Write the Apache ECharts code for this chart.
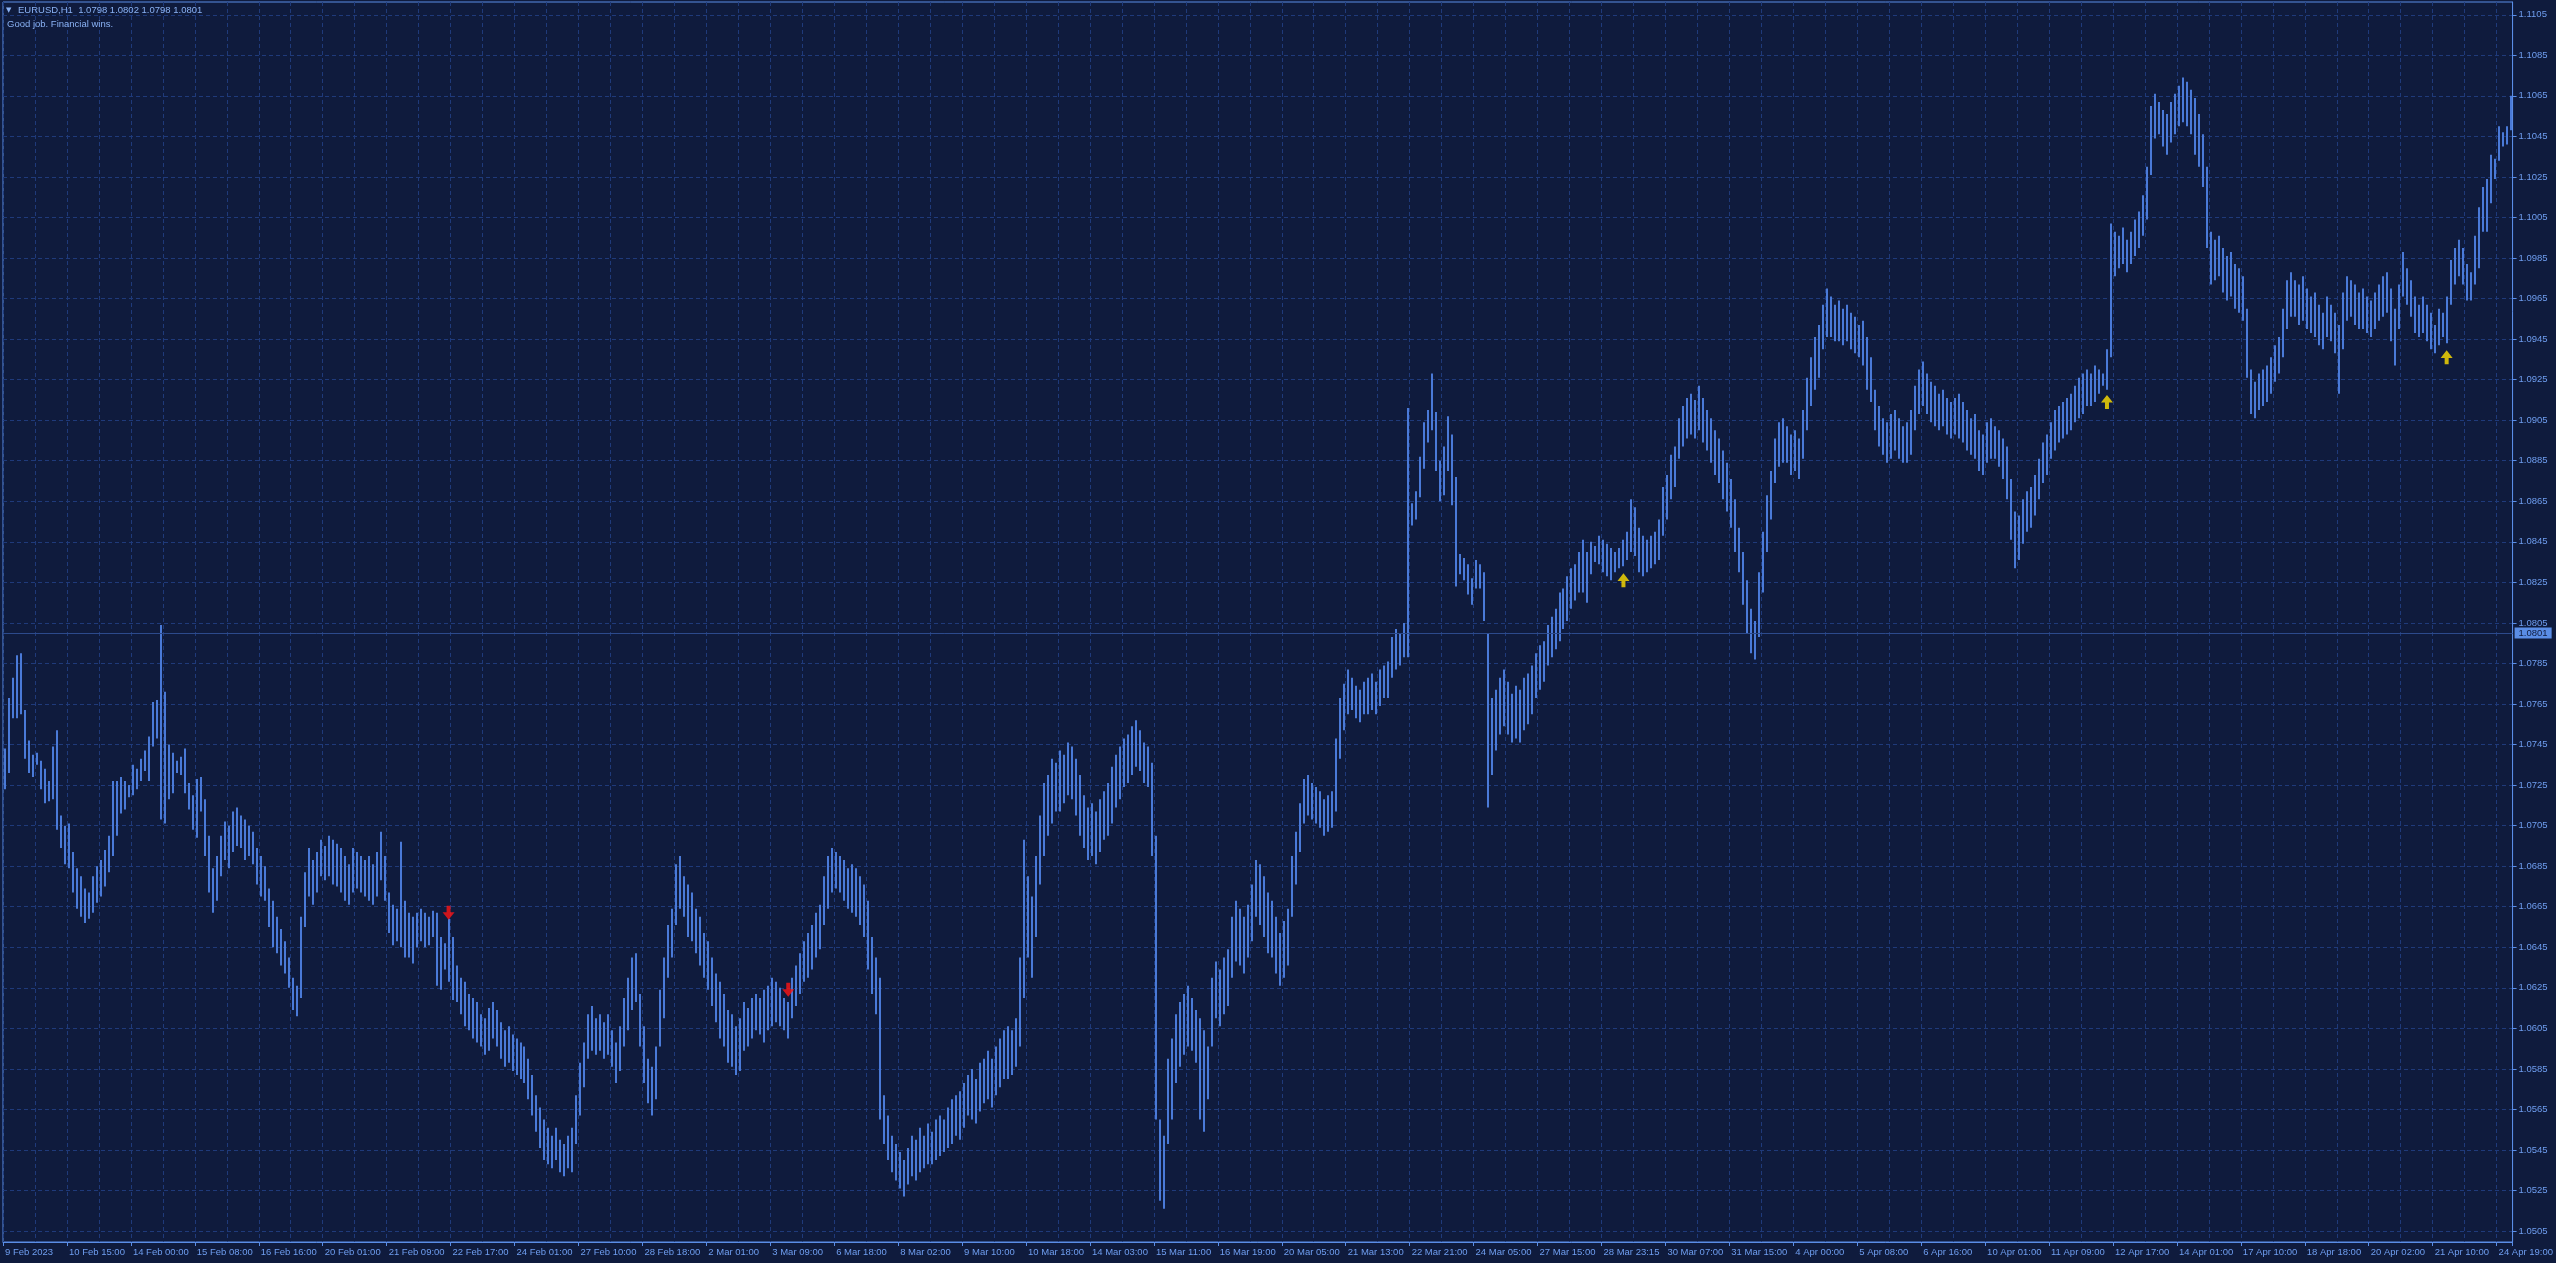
<!DOCTYPE html>
<html><head><meta charset="utf-8">
<script src="https://cdn.jsdelivr.net/npm/echarts@6/dist/echarts.min.js"></script>
<style>html,body{margin:0;padding:0;background:#0f1b3d;overflow:hidden}#c{width:2556px;height:1263px}</style>
</head><body><div id="c"></div>
<script>
// ---- data ----
const symbol = 'EURUSD';
const timeframe = 'H1';
const lastOHLC = [1.0798, 1.0802, 1.0798, 1.0801];
const currentPrice = 1.0801;
const noteText = 'Good job. Financial wins.';

const timeLabels = ['9 Feb 2023','10 Feb 15:00','14 Feb 00:00','15 Feb 08:00','16 Feb 16:00','20 Feb 01:00','21 Feb 09:00','22 Feb 17:00','24 Feb 01:00','27 Feb 10:00','28 Feb 18:00','2 Mar 01:00','3 Mar 09:00','6 Mar 18:00','8 Mar 02:00','9 Mar 10:00','10 Mar 18:00','14 Mar 03:00','15 Mar 11:00','16 Mar 19:00','20 Mar 05:00','21 Mar 13:00','22 Mar 21:00','24 Mar 05:00','27 Mar 15:00','28 Mar 23:15','30 Mar 07:00','31 Mar 15:00','4 Apr 00:00','5 Apr 08:00','6 Apr 16:00','10 Apr 01:00','11 Apr 09:00','12 Apr 17:00','14 Apr 01:00','17 Apr 10:00','18 Apr 18:00','20 Apr 02:00','21 Apr 10:00','24 Apr 19:00'];
const barsPerLabel = 16;

const priceTicks = [1.0505,1.0525,1.0545,1.0565,1.0585,1.0605,1.0625,1.0645,1.0665,1.0685,1.0705,1.0725,1.0745,1.0765,1.0785,1.0805,1.0825,1.0845,1.0865,1.0885,1.0905,1.0925,1.0945,1.0965,1.0985,1.1005,1.1025,1.1045,1.1065,1.1085,1.1105];

// bar highs / lows, in pips above 1.0000 (price = 1 + pips / 10000)
const highPips = [
743,768,778,789,790,762,747,740,741,737,733,727,744,752,710,705,706,692,684,680,
674,672,680,685,688,693,700,727,727,729,727,725,735,733,738,742,749,766,767,804,
771,745,741,737,739,743,726,720,728,729,718,700,684,690,700,707,705,712,714,710,
708,705,702,694,690,685,674,668,660,654,648,640,630,626,660,682,694,688,692,698,
695,700,698,696,694,690,686,694,692,690,688,690,686,692,702,690,672,666,664,697,
668,662,660,662,664,662,660,663,662,650,647,659,650,636,630,628,622,620,618,612,
610,615,618,614,608,604,606,602,600,598,596,590,582,572,566,560,556,552,556,550,
548,552,556,572,588,598,612,616,610,612,608,612,604,598,606,620,630,640,642,622,
606,590,586,596,624,640,656,664,686,690,680,676,672,664,660,652,648,640,632,628,
622,614,612,606,610,618,615,620,622,620,624,626,630,628,625,620,618,630,636,642,
648,652,656,662,666,680,690,694,692,690,688,684,686,684,680,676,668,650,640,630,
572,562,552,548,544,540,546,552,550,556,552,558,554,560,562,560,566,570,572,574,
578,582,585,580,588,590,594,590,596,600,604,606,604,610,640,698,680,670,690,710,
726,730,738,736,742,740,746,744,738,730,720,714,716,712,718,722,726,734,740,744,
748,750,754,757,752,746,744,736,700,560,552,590,600,612,618,622,626,620,614,610,
604,596,630,638,634,640,644,660,668,664,660,666,676,688,686,680,672,668,660,652,
658,664,690,702,716,728,730,726,724,722,718,720,722,748,768,775,782,778,774,772,
776,778,780,776,782,784,786,798,802,800,805,911,864,870,887,904,910,928,909,885,
892,907,898,877,839,837,834,827,836,834,830,800,768,772,778,782,776,770,774,772,
778,780,784,790,794,796,804,808,812,820,822,828,832,834,840,846,840,845,843,848,
846,844,842,840,842,846,850,866,862,852,848,846,848,850,856,872,878,888,892,906,
912,916,918,915,922,916,910,906,900,896,890,884,876,866,852,840,826,812,806,830,
850,868,880,896,904,906,902,898,900,896,910,926,936,946,952,962,970,966,962,964,
960,962,958,956,952,954,946,936,920,912,906,904,908,910,906,902,904,910,922,930,
934,928,924,922,918,920,916,914,916,918,914,910,906,908,900,898,904,906,902,900,
896,892,876,860,858,866,870,872,878,886,894,898,904,910,912,914,916,918,922,926,
928,930,928,932,930,928,940,1002,998,996,1000,994,998,1004,1008,1016,1030,1060,1066,1062,
1058,1056,1062,1066,1070,1074,1072,1068,1064,1056,1046,1030,998,994,996,990,986,988,982,980,
976,960,930,924,928,930,932,936,942,946,960,974,978,974,972,976,970,966,968,962,
958,966,962,958,952,968,976,974,972,968,970,966,964,968,972,976,978,970,960,972,
988,980,974,966,962,966,962,958,952,960,958,966,984,990,994,990,982,978,996,1010,
1020,1024,1036,1034,1050,1047,1050,1065
];
const lowPips = [
723,731,758,758,760,738,731,729,735,723,716,717,718,703,694,686,684,672,664,660,
657,659,662,667,670,675,682,690,700,711,713,719,720,723,727,732,727,744,748,708,
706,718,721,731,730,721,713,703,699,712,690,672,662,668,680,688,684,692,695,694,
688,690,686,676,670,668,655,645,642,636,632,625,614,611,620,655,670,666,672,680,
678,680,676,675,672,668,666,672,674,672,670,668,666,670,678,668,652,646,648,645,
640,640,637,645,648,645,646,650,626,624,634,628,619,618,612,606,604,600,598,596,
592,594,600,596,590,586,588,584,582,580,578,570,562,554,546,540,538,536,540,534,
532,536,534,548,562,576,590,594,592,594,590,592,586,578,584,596,604,614,618,596,
578,568,562,570,596,610,630,640,656,664,660,650,648,642,636,630,624,616,608,600,
596,588,586,582,584,594,596,600,604,602,598,604,606,608,606,604,600,610,616,622,
628,630,634,640,644,656,664,672,674,672,668,664,662,660,656,650,634,622,612,560,
548,540,534,530,526,522,528,532,530,534,536,538,538,540,542,544,546,548,552,550,
556,562,560,558,564,568,570,566,572,576,580,580,582,586,596,620,640,630,650,676,
690,700,706,712,712,716,720,718,710,700,694,688,690,686,692,698,700,706,714,718,
724,726,730,734,732,726,724,690,560,520,516,548,560,578,586,592,596,594,588,560,
554,570,596,610,606,612,616,630,638,636,632,640,648,660,656,650,642,640,632,626,
630,636,660,676,692,706,710,708,706,704,700,702,704,712,738,752,760,762,758,756,
760,760,762,760,764,768,768,778,782,784,788,788,853,856,867,881,894,900,880,865,
868,880,863,823,829,826,819,814,822,822,806,714,730,742,750,754,750,746,748,746,
752,755,760,768,772,776,784,788,792,796,802,806,812,816,820,820,815,829,835,834,
830,828,826,830,832,833,836,840,838,830,828,830,832,834,836,848,856,866,872,886,
892,896,898,896,900,894,890,884,878,874,866,860,852,840,830,814,800,790,787,798,
820,840,856,874,882,884,884,878,880,876,886,900,912,920,926,940,946,946,944,944,
942,944,940,938,936,932,920,914,900,892,888,884,886,890,886,884,884,888,900,908,
912,908,904,902,900,902,898,896,898,896,894,890,888,886,880,878,884,886,886,882,
876,866,846,832,836,844,850,852,858,866,874,878,886,890,894,896,898,900,904,906,
908,912,912,914,918,922,920,936,976,980,982,978,982,986,990,996,1004,1026,1044,1046,
1040,1036,1042,1046,1050,1052,1050,1046,1036,1030,1020,990,972,974,976,968,964,966,960,958,
954,926,908,906,910,912,914,918,924,928,936,950,956,956,952,954,950,948,946,942,
940,946,944,938,918,940,954,956,952,950,950,948,946,950,954,956,958,944,932,950,
966,962,956,948,946,948,944,940,938,942,946,943,962,972,976,972,964,964,972,980,
998,998,1012,1024,1033,1040,1041,1048
];

// signal arrows: [bar index, price]
const sellSignals = [[111, 1.0662], [196, 1.0624]];
const buySignals = [[405, 1.0826], [526, 1.0914], [611, 1.0936]];

// ---- styling ----
const BG = '#0f1b3d';
const GRID = '#1f3a7a';
const AXIS = '#5a8de6';
const LABEL = '#6f9ef0';
const BAR = '#4a7ad8';
const FONT = "'Liberation Sans', Arial, sans-serif";
const Y_MIN = 1.04996, Y_MAX = 1.11113;

const pipToPrice = p => +(1 + p / 10000).toFixed(4);
const barData = highPips.map((h, i) => [i, pipToPrice(h), pipToPrice(lowPips[i])]);
const categories = highPips.map((_, i) => String(i));

const chart = echarts.init(document.getElementById('c'), null, { renderer: 'canvas' });
chart.setOption({
  animation: false,
  backgroundColor: BG,
  grid: { left: 3, right: 41, top: 2, bottom: 21, show: true, borderColor: AXIS, borderWidth: 1, backgroundColor: BG },
  xAxis: {
    type: 'category', data: categories, boundaryGap: true,
    axisLine: { show: true, lineStyle: { color: AXIS, width: 1 } },
    axisTick: { show: true, interval: barsPerLabel - 1, length: 4, lineStyle: { color: AXIS } },
    axisLabel: {
      interval: barsPerLabel - 1, align: 'left', margin: 5, color: LABEL, fontSize: 9.5, fontFamily: FONT,
      formatter: (v, idx) => timeLabels[Math.round(idx / barsPerLabel)] || ''
    },
    splitLine: { show: true, interval: barsPerLabel / 2 - 1, lineStyle: { color: GRID, type: [4, 3], width: 1 } }
  },
  yAxis: {
    type: 'value', position: 'right', min: Y_MIN, max: Y_MAX,
    axisLine: { show: true, lineStyle: { color: AXIS } },
    axisTick: { show: true, length: 4, customValues: priceTicks, lineStyle: { color: AXIS } },
    axisLabel: { customValues: priceTicks, margin: 6, color: LABEL, fontSize: 9.5, fontFamily: FONT, formatter: v => v.toFixed(4) },
    splitLine: { show: true, lineStyle: { color: GRID, type: [4, 3], width: 1 } }
  },
  graphic: [
    { type: 'text', left: 6, top: 7, style: { text: '▼', fill: '#8ab2f4', font: '7px DejaVu Sans' }, z: 100 },
    { type: 'text', left: 18, top: 5, style: { text: symbol + ',' + timeframe + '  ' + lastOHLC.map(v => v.toFixed(4)).join(' '), fill: '#8ab2f4', font: '9.5px ' + FONT }, z: 100 },
    { type: 'text', left: 7, top: 19, style: { text: noteText, fill: '#8ab2f4', font: '9.5px ' + FONT }, z: 100 }
  ],
  series: [
    {
      type: 'custom', name: 'bars', data: barData, clip: true,
      encode: { x: 0, y: [1, 2] },
      renderItem: (params, api) => {
        const i = api.value(0);
        const pH = api.coord([i, api.value(1)]);
        const pL = api.coord([i, api.value(2)]);
        const x = Math.round(pH[0]) - 1;
        return { type: 'rect', shape: { x: x, y: pH[1], width: 2, height: Math.max(1, pL[1] - pH[1]) }, style: { fill: BAR } };
      },
      z: 3
    },
    {
      type: 'line', name: 'price', data: [], silent: true,
      markLine: {
        symbol: 'none', silent: true, animation: false,
        lineStyle: { color: '#2c4a8c', type: 'solid', width: 1 },
        label: { position: 'end', formatter: currentPrice.toFixed(4), backgroundColor: AXIS, color: '#0f1b3d', padding: [1, 4, 0, 4], fontSize: 9.5, fontFamily: FONT, distance: 2 },
        data: [{ yAxis: currentPrice }]
      },
      z: 2
    },
    {
      type: 'scatter', name: 'sell', data: sellSignals,
      symbol: 'path://M4,0L8,0L8,6L12,6L6,13L0,6L4,6Z', symbolSize: [12, 14],
      itemStyle: { color: '#ff1414' }, z: 5
    },
    {
      type: 'scatter', name: 'buy', data: buySignals,
      symbol: 'path://M6,0L12,7L8,7L8,13L4,13L4,7L0,7Z', symbolSize: [12, 14],
      itemStyle: { color: '#ffe000' }, z: 5
    }
  ]
});
</script>
</body></html>
